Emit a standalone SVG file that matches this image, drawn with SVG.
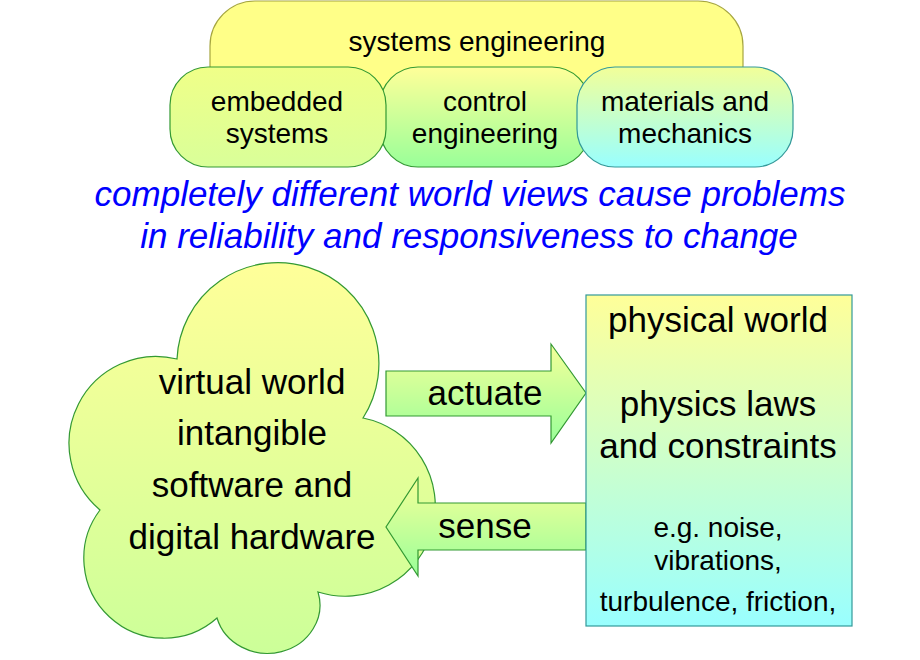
<svg xmlns="http://www.w3.org/2000/svg" width="920" height="660" viewBox="0 0 920 660">
<style>
  text { font-family: "Liberation Sans", Arial, sans-serif; fill: #000; text-anchor: middle; }
  .t28 { font-size: 28px; }
  .t35 { font-size: 35px; }
  .blue { font-size: 35px; font-style: italic; fill: #0000FF; }
  .green { stroke: #339933; stroke-width: 1.2; }
  .teal { stroke: #339999; stroke-width: 1.2; }
</style>
<defs>
  <linearGradient id="gEmb" x1="0" y1="0" x2="0" y2="1">
    <stop offset="0" stop-color="#F0FF88"/>
    <stop offset="1" stop-color="#D9FF99"/>
  </linearGradient>
  <linearGradient id="gCtl" x1="0" y1="0" x2="0" y2="1">
    <stop offset="0" stop-color="#FFFF99"/>
    <stop offset="1" stop-color="#99FF99"/>
  </linearGradient>
  <linearGradient id="gMat" x1="0" y1="0" x2="0" y2="1">
    <stop offset="0" stop-color="#F2FF99"/>
    <stop offset="1" stop-color="#99FFFF"/>
  </linearGradient>
  <linearGradient id="gCloud" x1="0" y1="0" x2="0" y2="1">
    <stop offset="0" stop-color="#FFFF99"/>
    <stop offset="1" stop-color="#CCFF99"/>
  </linearGradient>
  <linearGradient id="gArrow" x1="0" y1="0" x2="0" y2="1">
    <stop offset="0" stop-color="#F5FF99"/>
    <stop offset="1" stop-color="#99FF99"/>
  </linearGradient>
  <linearGradient id="gPhys" x1="0" y1="0" x2="0" y2="1">
    <stop offset="0" stop-color="#FFFF99"/>
    <stop offset="1" stop-color="#99FFFF"/>
  </linearGradient>
</defs>

<g id="systems-engineering">
  <rect x="210" y="1" width="533" height="110" rx="45" ry="45" fill="#FFFF88" stroke="#A6A640" stroke-width="1.2"/>
  <text class="t28" x="477" y="51">systems engineering</text>
</g>

<g id="control-engineering">
  <rect x="380" y="67" width="210" height="100" rx="38" ry="38" fill="url(#gCtl)" class="green"/>
  <text class="t28" x="485" y="111">control</text>
  <text class="t28" x="485" y="143">engineering</text>
</g>

<g id="embedded-systems">
  <rect x="170" y="67" width="216" height="100" rx="38" ry="38" fill="url(#gEmb)" class="green"/>
  <text class="t28" x="277" y="111">embedded</text>
  <text class="t28" x="277" y="143">systems</text>
</g>

<g id="materials-mechanics">
  <rect x="577" y="67" width="216" height="100" rx="38" ry="38" fill="url(#gMat)" class="teal"/>
  <text class="t28" x="685" y="111">materials and</text>
  <text class="t28" x="685" y="143">mechanics</text>
</g>

<g id="caption">
  <text class="blue" x="470" y="206">completely different world views cause problems</text>
  <text class="blue" x="469" y="248">in reliability and responsiveness to change</text>
</g>

<g id="virtual-world">
  <path d="M 177 359 A 101 101 0 1 1 363 418 A 90 90 0 1 1 318 592 A 52 48 0 1 1 217 618 A 80 80 0 0 1 100 510 A 87 87 0 0 1 177 359 Z" fill="url(#gCloud)" class="green"/>
  <text class="t35" x="252" y="394">virtual world</text>
  <text class="t35" x="252" y="445">intangible</text>
  <text class="t35" x="252" y="497">software and</text>
  <text class="t35" x="252" y="549">digital hardware</text>
</g>

<g id="connectors">
  <g id="actuate">
    <path d="M 386 371 H 551 V 344 L 586 393 L 551 443 V 416 H 386 Z" fill="url(#gArrow)" class="green"/>
    <text class="t35" x="485" y="405">actuate</text>
  </g>
  <g id="sense">
    <path d="M 586 503 H 418 V 478 L 386 527 L 418 576 V 550 H 586 Z" fill="url(#gArrow)" class="green"/>
    <text class="t35" x="485" y="538">sense</text>
  </g>
</g>

<g id="physical-world">
  <rect x="586" y="295" width="266" height="331" fill="url(#gPhys)" class="teal"/>
  <text class="t35" x="718" y="332">physical world</text>
  <text class="t35" x="718" y="416">physics laws</text>
  <text class="t35" x="718" y="458">and constraints</text>
  <text class="t28" x="718" y="537">e.g. noise,</text>
  <text class="t28" x="718" y="570">vibrations,</text>
  <text class="t28" x="718" y="611">turbulence, friction,</text>
</g>
</svg>
